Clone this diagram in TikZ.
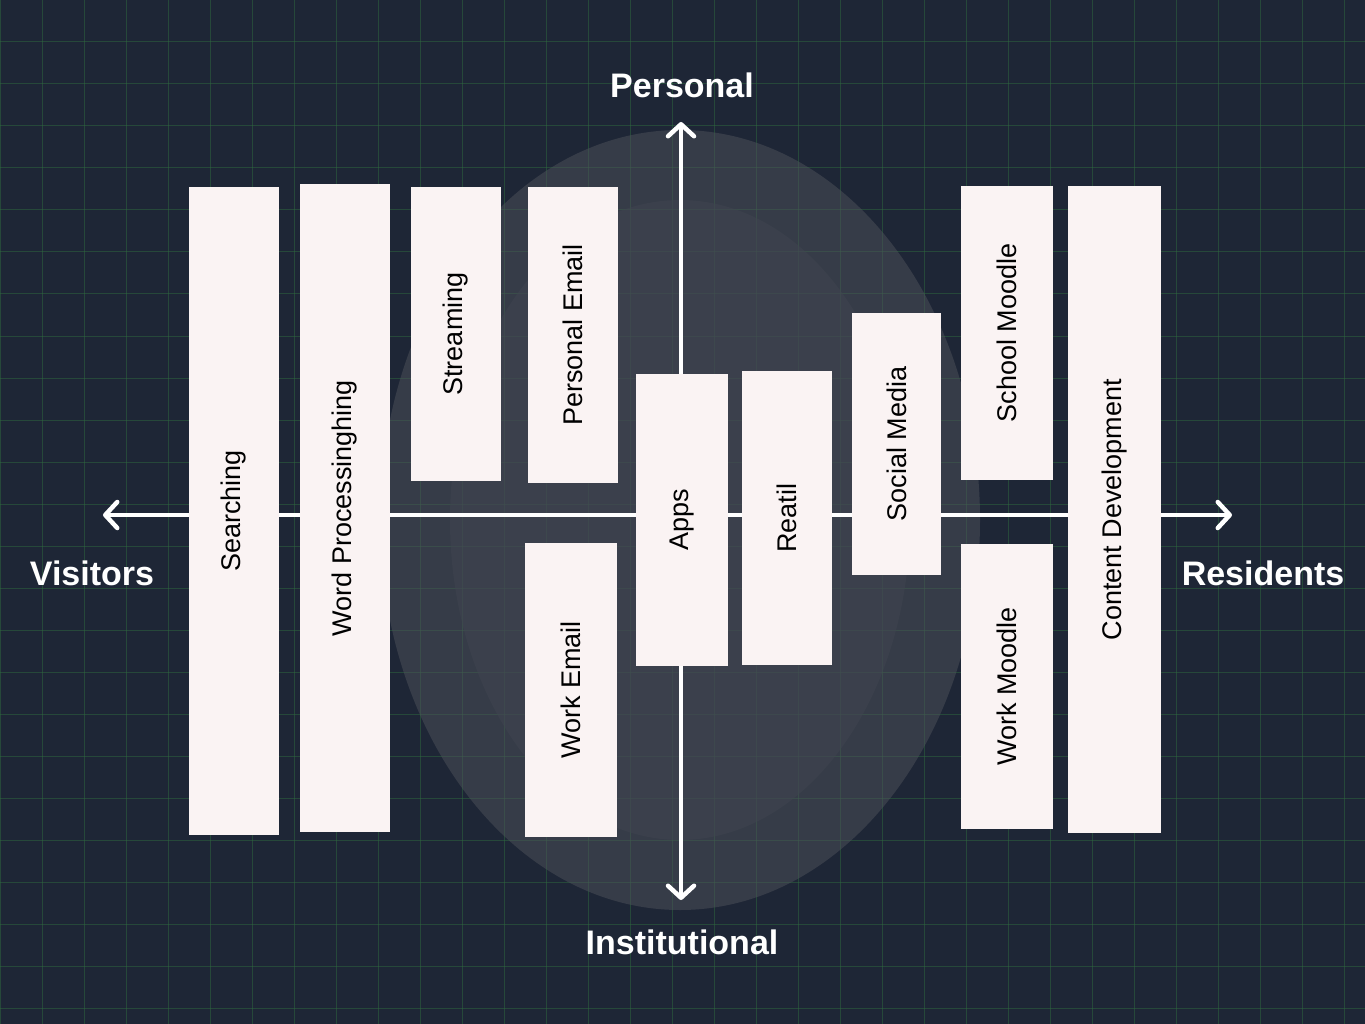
\documentclass[tikz,border=0pt]{standalone}
\usepackage{fontspec}
\setmainfont{Liberation Sans}
\usetikzlibrary{arrows.meta}
\definecolor{bg}{HTML}{1E2636}
\definecolor{boxc}{HTML}{FAF3F3}
\definecolor{gridc}{HTML}{2F6B3E}
\begin{document}
\begin{tikzpicture}[x=1pt,y=-1pt,
  box/.style={fill=boxc,draw=none},
  lab/.style={rotate=90,text=black,font=\fontsize{27}{31}\selectfont},
  axl/.style={text=white,font=\fontsize{34}{39}\selectfont\bfseries},
  ax/.style={white,line width=4.5pt,-{Straight Barb[length=12pt,width=26pt,round]}}]
\fill[bg] (0,0) rectangle (1365,1024);
\useasboundingbox (0,0) rectangle (1365,1024);
\foreach \i in {0,...,33} {\draw[gridc,opacity=0.5,line width=1pt] (\i*42,0) -- (\i*42,1024);}
\foreach \i in {0,...,25} {\draw[gridc,opacity=0.5,line width=1pt] (0,\i*42) -- (1365,\i*42);}
\fill[gray!50!bg,opacity=0.5] (680,520) ellipse (300 and 390);
\fill[gray!35!bg,opacity=0.5] (680,520) ellipse (230 and 320);
% axes
\coordinate (L) at (103,515); \coordinate (R) at (1232,515);
\coordinate (T) at (681,122); \coordinate (B) at (681,900);
\coordinate (C) at (681,515);
\draw[ax] (C) -- (L); \draw[ax] (C) -- (R);
\draw[ax] (C) -- (T); \draw[ax] (C) -- (B);
\node[axl] (pers) at (682,85) {Personal};
\node[axl] (inst) at (682,942) {Institutional};
\node[axl] (vis) at (92,573) {Visitors};
\node[axl] (res) at (1263,573) {Residents};
% boxes
\foreach \nm/\a/\b/\c/\d/\t in {
 s/189/187/279/835/Searching,
 w/300/184/390/832/Word Processinghing,
 st/411/187/501/481/Streaming,
 pe/528/187/618/483/Personal Email,
 we/525/543/617/837/Work Email,
 ap/636/374/728/666/Apps,
 re/742/371/832/665/Reatil,
 sm/852/313/941/575/Social Media,
 sc/961/186/1053/480/School Moodle,
 wm/961/544/1053/829/Work Moodle,
 cd/1068/186/1161/833/Content Development} {
  \fill[box] (\a,\b) rectangle (\c,\d);
  \node[lab] (\nm) at ({(\a+\c)/2},{(\b+\d)/2}) {\t};
}
\end{tikzpicture}
\end{document}
